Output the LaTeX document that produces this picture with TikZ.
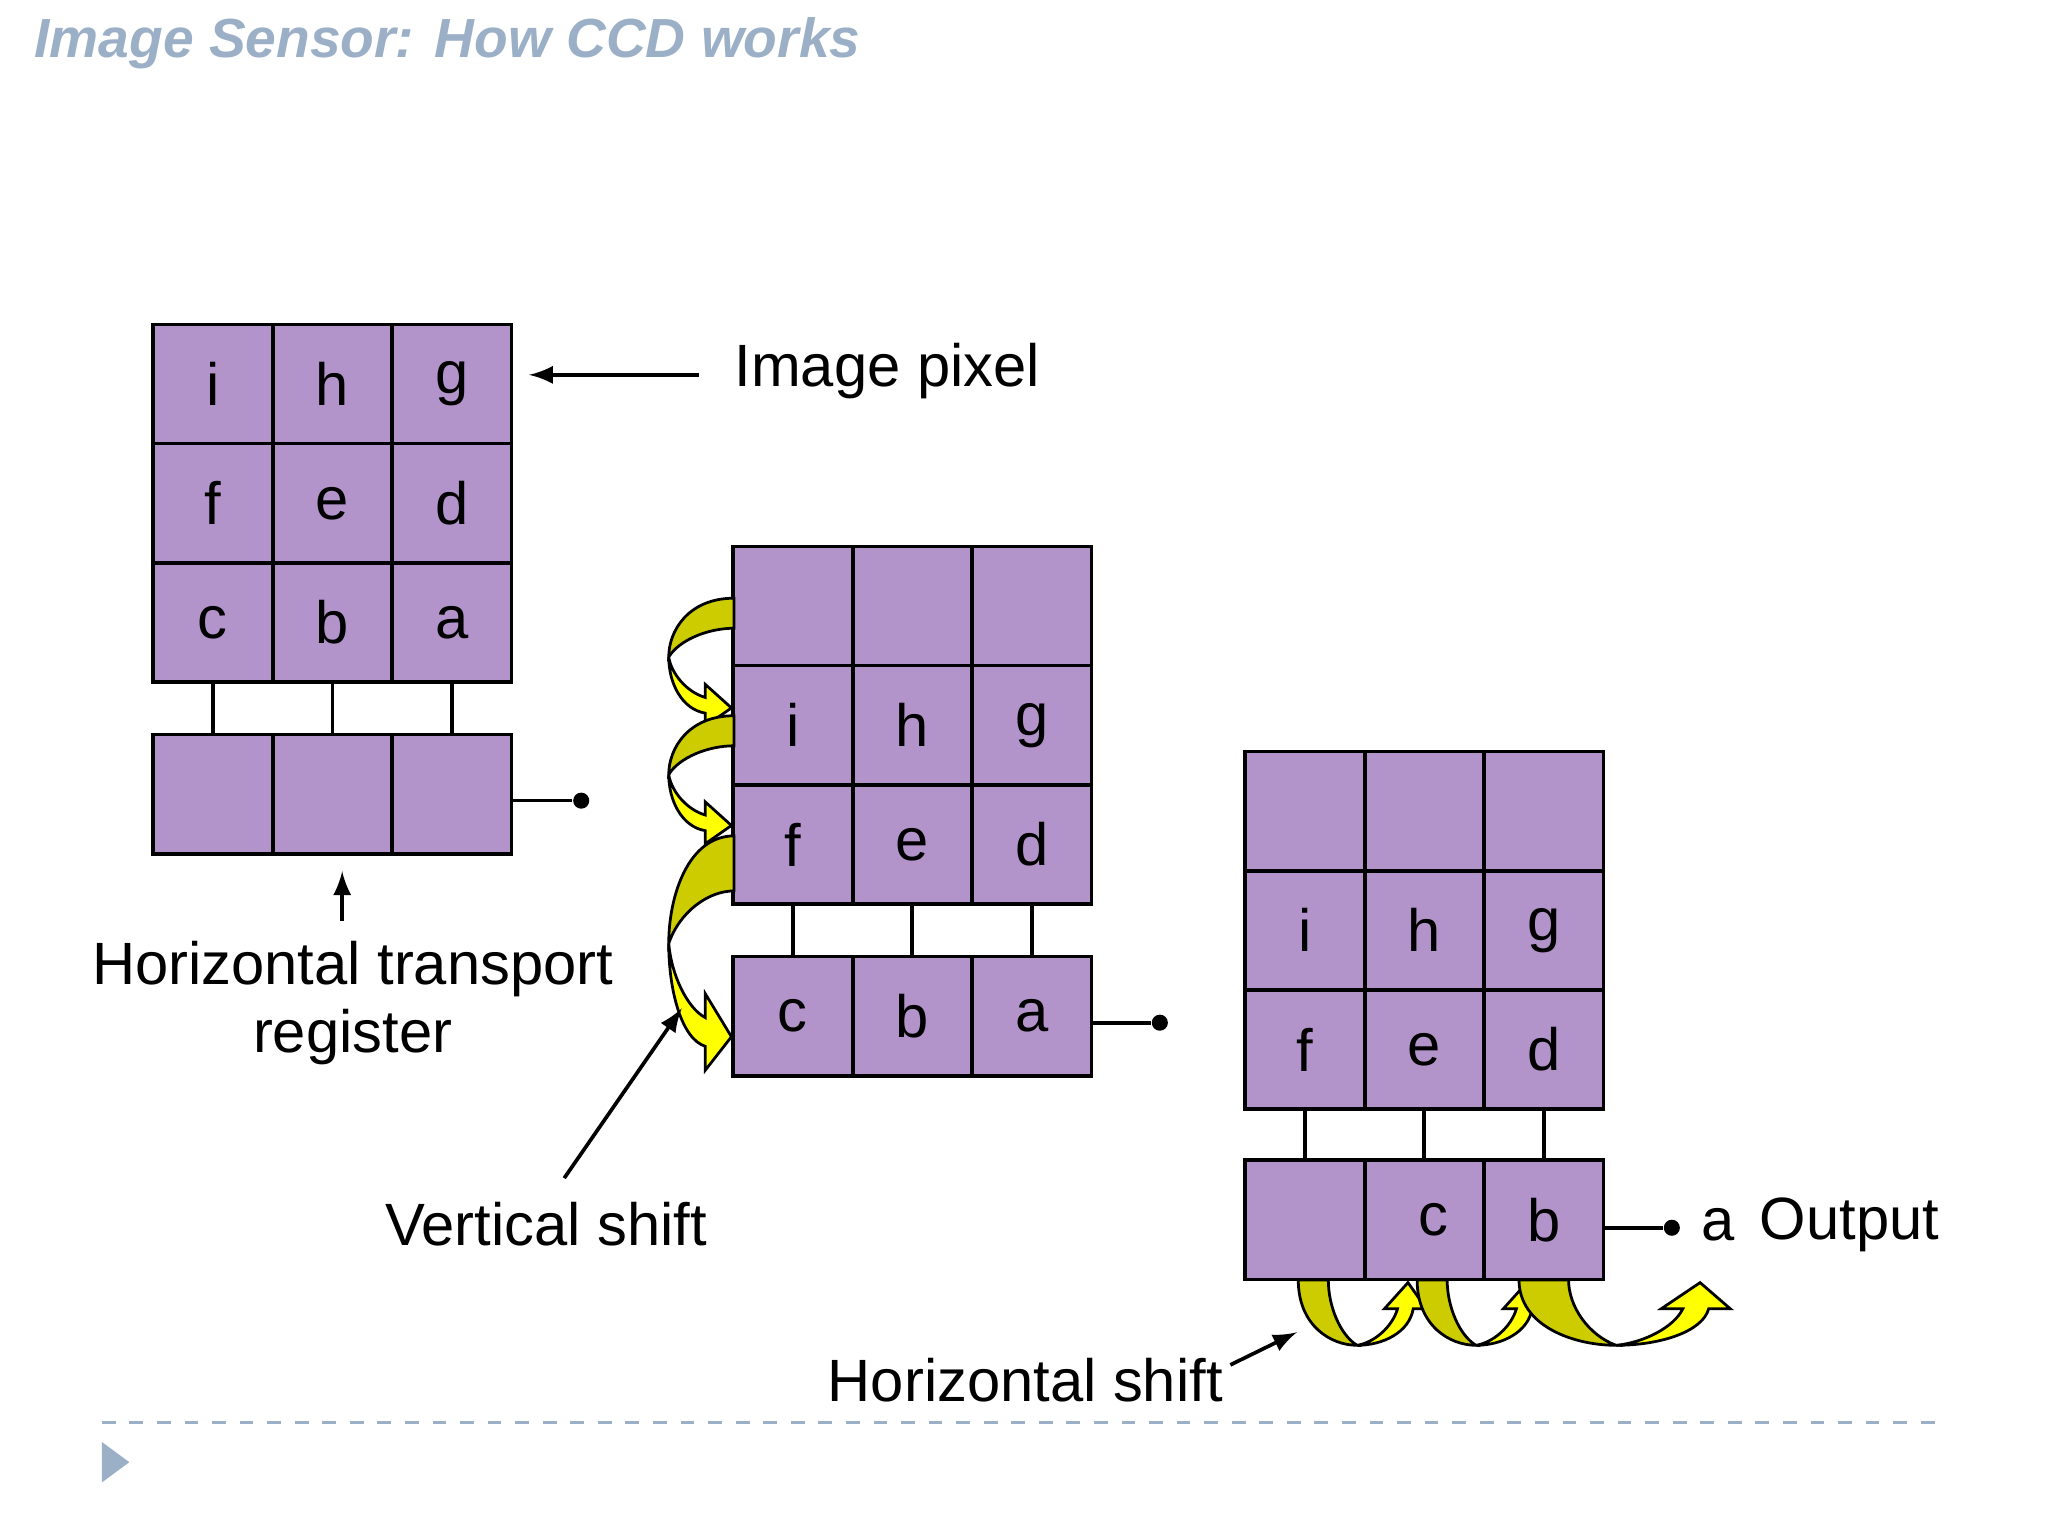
\documentclass[tikz,border=0pt]{standalone}
\usepackage{fontspec}
\setmainfont{Liberation Sans}
\usetikzlibrary{positioning,calc}
\definecolor{cellpurple}{HTML}{B294CB}
\definecolor{titleblue}{HTML}{9BB0C6}
\definecolor{darkyel}{HTML}{CCCC00}
\definecolor{brightyel}{HTML}{FFFF00}
\tikzset{
  cell/.style={draw, line width=0.8pt, fill=cellpurple, minimum size=0.913cm, inner sep=0pt, font=\fontsize{13}{15}\selectfont},
  lbl/.style={font=\fontsize{13}{15}\selectfont, align=center},
  wire/.style={line width=0.8pt},
  dot/.style={circle, fill=black, inner sep=0pt, minimum size=3.5pt},
  band/.style={draw, line width=0.6pt}
}
% one curved shift arrow, local units
\newcommand{\shiftarrow}{%
  \filldraw[band, fill=darkyel] (0,0) .. controls (0,35) and (25,50) .. (45,50)
     .. controls (32,42) and (23,20) .. (23,0) -- cycle;
  \filldraw[band, fill=brightyel] (45,50) .. controls (65,50) and (85,40) .. (88,22)
     -- (98,22) -- (84,2) -- (66,22) -- (76,22) .. controls (72,36) and (58,48) .. (45,50) -- cycle;
}
\begin{document}
\begin{tikzpicture}[x=0.01cm, y=-0.01cm]
  \fill[white] (0,0) rectangle (1568,1176);
  \useasboundingbox (0,0) rectangle (1568,1176);
  \node[anchor=west, text=titleblue, font=\fontsize{12}{14}\selectfont\bfseries\itshape] (title) at (14,33) {Image Sensor: How CCD works};

  % first stage
  \foreach \r/\a/\b/\c in {0/i/h/g,1/f/e/d,2/c/b/a}{
    \node[cell] (p\r1) at (163,{294+91.3*\r}) {\a};
    \node[cell] (p\r2) at (254.5,{294+91.3*\r}) {\b};
    \node[cell] (p\r3) at (346,{294+91.3*\r}) {\c};
  }
  \foreach \k in {1,2,3}{
    \node[cell] (r\k) at ({163+91.5*(\k-1)},608) {};
    \draw[wire] (p2\k.south) -- (r\k.north);
  }
  \node[dot] (o1) at (445,613) {};
  \draw[wire] (r3.east |- o1) -- (o1);

  % second stage
  \foreach \r/\a/\b/\c in {0/ / / ,1/i/h/g,2/f/e/d}{
    \node[cell] (q\r1) at (607,{464+91.3*\r}) {\a};
    \node[cell] (q\r2) at (698.5,{464+91.3*\r}) {\b};
    \node[cell] (q\r3) at (790,{464+91.3*\r}) {\c};
  }
  \foreach \k/\t in {1/c,2/b,3/a}{
    \node[cell] (s\k) at ({607+91.5*(\k-1)},778) {\t};
    \draw[wire] (q2\k.south) -- (s\k.north);
  }
  \node[dot] (o2) at (888,783) {};
  \draw[wire] (s3.east |- o2) -- (o2);

  % third stage
  \foreach \r/\a/\b/\c in {0/ / / ,1/i/h/g,2/f/e/d}{
    \node[cell] (u\r1) at (999,{621+91.3*\r}) {\a};
    \node[cell] (u\r2) at (1090.5,{621+91.3*\r}) {\b};
    \node[cell] (u\r3) at (1182,{621+91.3*\r}) {\c};
  }
  \foreach \k/\t in {1/,2/\hspace{0.3em}c,3/b}{
    \node[cell] (t\k) at ({999+91.5*(\k-1)},934) {\t};
    \draw[wire] (u2\k.south) -- (t\k.north);
  }
  \node[dot] (o3) at (1280,940) {};
  \draw[wire] (t3.east |- o3) -- (o3);
  \node[lbl, anchor=west] (outa) at (1290,938) {a};
  \node[lbl, anchor=west] (outlbl) at (1335,938) {Output};

  % vertical shift arrows
  \begin{scope}[shift={(562,458)}, x={(0cm,-0.01cm)}, y={(-0.01cm,0cm)}]\shiftarrow\end{scope}
  \begin{scope}[shift={(562,548)}, x={(0cm,-0.01cm)}, y={(-0.01cm,0cm)}]\shiftarrow\end{scope}
  \begin{scope}[shift={(562,640)}, x={(0cm,-0.0183cm)}, y={(-0.01cm,0cm)}]\shiftarrow\end{scope}

  % horizontal shift arrows
  \begin{scope}[shift={(994,980)}]\shiftarrow\end{scope}
  \begin{scope}[shift={(1085,980)}]\shiftarrow\end{scope}
  \begin{scope}[shift={(1163,980)}, x={(0.0165cm,0cm)}]\shiftarrow\end{scope}

  % labels
  \node[lbl, anchor=west] (pixlbl) at (550,284) {Image pixel};
  \coordinate (pixtip) at (405,287);
  \draw[wire, -latex] (pixlbl.west |- pixtip) ++(-15,0) -- (pixtip);

  \node[lbl] (htrlbl) at (270,768) {Horizontal transport\\register};
  \coordinate (htrtip) at (262,667);
  \draw[wire, -latex] (262,705) -- (htrtip);

  \node[lbl] (vslbl) at (418,937) {Vertical shift};
  \coordinate (vstip) at (522,772);
  \draw[wire, -latex] (432,902) -- (vstip);

  \node[lbl] (hslbl) at (785,1057) {Horizontal shift};
  \coordinate (hstip) at (993,1020);
  \draw[wire, -latex] (942,1045) -- (hstip);

  % footer
  \draw[titleblue, dashed, line width=0.6pt] (78,1089) -- (1490,1089);
  \fill[titleblue] (78,1104) -- (99,1119.5) -- (78,1135) -- cycle;
\end{tikzpicture}
\end{document}
